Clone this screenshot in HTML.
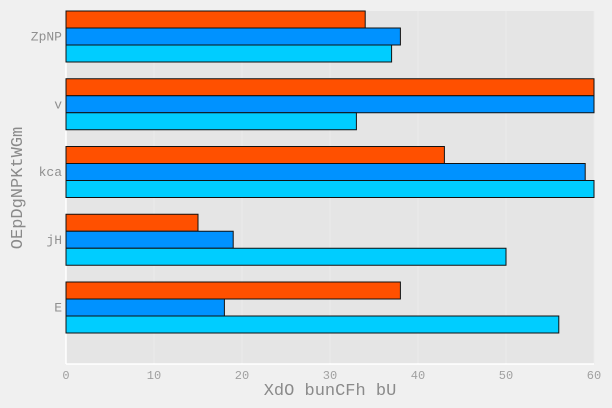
<!DOCTYPE html>
<html><head><meta charset="utf-8"><style>
html,body{margin:0;padding:0;background:#f0f0f0;}
svg{display:block;font-family:"Liberation Mono",monospace;}
</style></head><body>
<svg id="chart" width="612" height="408"></svg>
<script>
const categories = ["ZpNP","v","kca","jH","E"];
const seriesOrange = [34,60,43,15,38];
const seriesBlue = [38,60,59,19,18];
const seriesCyan = [37,33,60,50,56];
const xTicks = [0,10,20,30,40,50,60];
const xTitle = "XdO bunCFh bU";
const yTitle = "OEpDgNPKtWGm";

const NS="http://www.w3.org/2000/svg";
const svg=document.getElementById('chart');
const L=66,R=594,T=11,B=364;
const xMax=60;
const x=v=>L+(R-L)*v/xMax;
const pitch=67.75, barH=17;
const yTop=i=>T+pitch*i;
function mk(tag,attrs){const e=document.createElementNS(NS,tag);for(const k in attrs)e.setAttribute(k,attrs[k]);svg.appendChild(e);return e;}

const bg=mk('rect',{x:L,y:T,width:R-L,height:B-T,fill:'#e5e5e5'});



xTicks.forEach(t=>{
  const g=mk('line',{x1:x(t),x2:x(t),y1:T,y2:B,stroke:'#ececec','stroke-width':1});
  
  
  const tl=mk('text',{x:x(t),y:379,'text-anchor':'middle','font-size':12,fill:'#a0a0a0'});
  tl.textContent=t;
  
  
});
const ax=mk('line',{x1:L,x2:R,y1:B,y2:B,stroke:'#fff','stroke-width':1.5});


const ay=mk('line',{x1:L,x2:L,y1:T,y2:B,stroke:'#fff','stroke-width':1.5});



const series=[[seriesOrange,'#ff5000','orange'],[seriesBlue,'#0092ff','blue'],[seriesCyan,'#00cdff','cyan']];
categories.forEach((c,i)=>{
  series.forEach((s,j)=>{
    const v=s[0][i];
    const r=mk('rect',{x:L,y:yTop(i)+j*barH,width:x(v)-L,height:barH,fill:s[1],stroke:'#111','stroke-width':1});
    
    
  });
  const lb=mk('text',{x:62,y:yTop(i)+barH*1.5+4,'text-anchor':'end','font-size':13,fill:'#909090'});
  lb.textContent=c;
  
  
});

const xt=mk('text',{x:330,y:395,'text-anchor':'middle','font-size':17,fill:'#8a8a8a'});
xt.textContent=xTitle;


const yt=mk('text',{x:0,y:0,'text-anchor':'middle','font-size':17,fill:'#8a8a8a',transform:'translate(22,188) rotate(-90)'});
yt.textContent=yTitle;


</script>
</body></html>
